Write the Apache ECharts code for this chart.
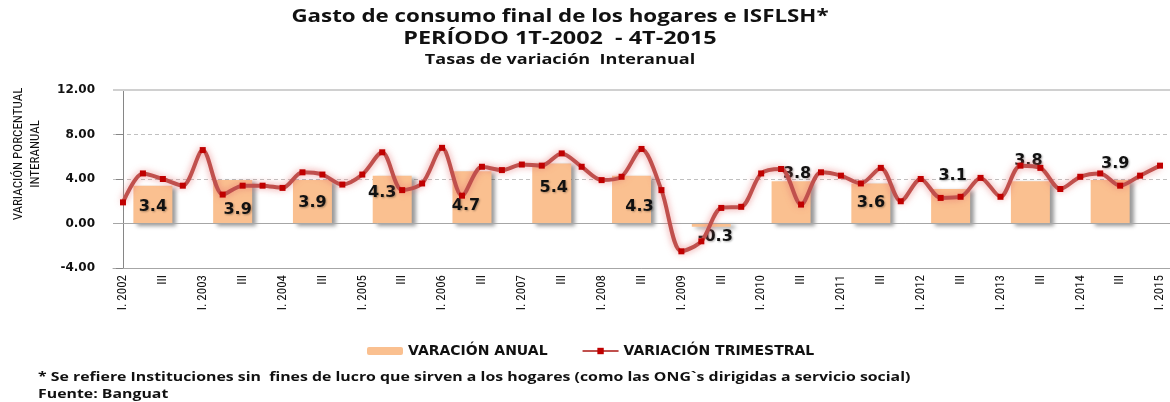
<!DOCTYPE html>
<html>
<head>
<meta charset="utf-8">
<script src="https://cdn.jsdelivr.net/npm/echarts@6/dist/echarts.min.js"></script>
<style>
html, body { margin: 0; padding: 0; background: #fff; }
#chart { width: 1170px; height: 402px; }
</style>
</head>
<body>
<div id="chart"></div>
<script>
// trimestres, de I.2002 a I.2015
const trimestres = [
    'I. 2002', 'II', 'III', 'IV', 'I. 2003', 'II', 'III', 'IV',
    'I. 2004', 'II', 'III', 'IV', 'I. 2005', 'II', 'III', 'IV',
    'I. 2006', 'II', 'III', 'IV', 'I. 2007', 'II', 'III', 'IV',
    'I. 2008', 'II', 'III', 'IV', 'I. 2009', 'II', 'III', 'IV',
    'I. 2010', 'II', 'III', 'IV', 'I. 2011', 'II', 'III', 'IV',
    'I. 2012', 'II', 'III', 'IV', 'I. 2013', 'II', 'III', 'IV',
    'I. 2014', 'II', 'III', 'IV', 'I. 2015'
];
const variacionTrimestral = [
    1.9, 4.5, 4.0, 3.4,  6.6, 2.6, 3.4, 3.4,
    3.2, 4.6, 4.4, 3.5,  4.4, 6.4, 3.0, 3.6,
    6.8, 2.5, 5.1, 4.8,  5.3, 5.2, 6.3, 5.1,
    3.9, 4.2, 6.7, 3.0, -2.5, -1.6, 1.4, 1.5,
    4.5, 4.9, 1.7, 4.6,  4.3, 3.6, 5.0, 2.0,
    4.0, 2.3, 2.4, 4.1,  2.4, 5.2, 5.0, 3.1,
    4.2, 4.5, 3.4, 4.3,  5.2
];
const anios = [2002, 2003, 2004, 2005, 2006, 2007, 2008, 2009, 2010, 2011, 2012, 2013, 2014];
const variacionAnual = [3.4, 3.9, 3.9, 4.3, 4.7, 5.4, 4.3, -0.3, 3.8, 3.6, 3.1, 3.8, 3.9];
const yMin = -4, yMax = 12, yStep = 4;

// donde cae cada etiqueta de la barra (como en el original)
const labelDy = [21, 30, 23, 17, 35, 24, 31, 13, -7, 19, -13, -20, -16];
const labelDx = [0, 5, 0, -10, -6, 2, 8, 4, 6, 0, 2, -2, 5];

const narrow = "'Liberation Sans Narrow', 'Roboto Condensed', Roboto, sans-serif";

// barra anual centrada entre el II y III trimestre de su año
const barData = anios.map(function (a, i) {
    return {
        value: [trimestres.indexOf('I. ' + a) + 1.5, variacionAnual[i]],
        label: {
            position: ['50%', labelDy[i]],
            offset: [labelDx[i], 0]
        }
    };
});

function texto(x, y, txt, size, sx, align) {
    return {
        type: 'text', x: x, y: y, scaleX: sx,
        style: {
            text: txt,
            align: align, verticalAlign: 'middle',
            fontFamily: 'Open Sans', fontWeight: 'bold', fontSize: size, fill: '#111'
        }
    };
}

let myChart = echarts.init(document.getElementById('chart'));
myChart.setOption({
    animation: false,
    grid: { left: 113, top: 90, right: 0, height: 178, containLabel: false, outerBoundsMode: 'none' },
    legend: {
        left: 362,
        top: 339,
        itemWidth: 36,
        itemHeight: 8,
        itemGap: 34,
        textStyle: { fontFamily: 'DejaVu Sans', fontWeight: 'bold', fontSize: 14, color: '#111' },
        data: ['VARACIÓN ANUAL', 'VARIACIÓN TRIMESTRAL']
    },
    xAxis: [
        {
            type: 'category',
            data: trimestres,
            boundaryGap: true,
            axisLine: { onZero: false, lineStyle: { color: '#A6A6A6' } },
            axisTick: { show: false },
            axisLabel: {
                interval: 1,
                rotate: 90,
                margin: 7,
                fontFamily: narrow,
                fontSize: 13,
                color: '#111'
            }
        },
        {
            type: 'value',
            show: false,
            min: -0.5,
            max: trimestres.length - 0.5
        }
    ],
    yAxis: {
        type: 'value',
        min: yMin,
        max: yMax,
        interval: yStep,
        axisLine: { show: true, lineStyle: { color: '#868686' } },
        axisTick: { show: true, length: 7, lineStyle: { color: '#868686' } },
        axisLabel: {
            margin: 18,
            formatter: function (v) { return v.toFixed(2); },
            fontFamily: 'DejaVu Sans',
            fontWeight: 'bold',
            fontSize: 12,
            color: '#111'
        },
        splitLine: { lineStyle: { color: '#C0C0C0', type: [4, 3] } }
    },
    series: [
        {
            name: 'VARACIÓN ANUAL',
            type: 'bar',
            xAxisIndex: 1,
            barWidth: 39,
            itemStyle: {
                color: '#FAC090',
                shadowColor: 'rgba(0,0,0,0.4)',
                shadowBlur: 4,
                shadowOffsetX: 4,
                shadowOffsetY: 2
            },
            label: {
                show: true,
                align: 'center',
                verticalAlign: 'middle',
                formatter: function (p) { return p.value[1].toFixed(1); },
                fontFamily: 'DejaVu Sans',
                fontWeight: 'bold',
                fontSize: 16,
                color: '#111',
                textShadowColor: 'rgba(0,0,0,0.3)',
                textShadowBlur: 2,
                textShadowOffsetX: 1,
                textShadowOffsetY: 1
            },
            markLine: {
                silent: true,
                symbol: 'none',
                label: { show: false },
                data: [
                    { yAxis: 0, lineStyle: { color: '#A6A6A6', type: 'solid', width: 1 } },
                    { yAxis: yMax, lineStyle: { color: '#D0D0D0', type: 'solid', width: 2 } }
                ]
            },
            data: barData
        },
        {
            name: 'VARIACIÓN TRIMESTRAL',
            type: 'line',
            xAxisIndex: 0,
            smooth: 0.3,
            symbol: 'rect',
            symbolSize: 6,
            z: 5,
            lineStyle: {
                color: '#C0504D',
                width: 4,
                shadowColor: 'rgba(230,110,110,0.75)',
                shadowBlur: 7
            },
            itemStyle: { color: '#C00000' },
            data: variacionTrimestral
        }
    ],
    graphic: [
        texto(560, 17, 'Gasto de consumo final de los hogares e ISFLSH*', 18, 1.24, 'center'),
        texto(560, 39, 'PERÍODO 1T-2002  - 4T-2015', 18, 1.3, 'center'),
        texto(560, 60, 'Tasas de variación  Interanual', 14, 1.29, 'center'),
        {
            type: 'text', x: 27, y: 154, rotation: Math.PI / 2,
            style: {
                text: 'VARIACIÓN PORCENTUAL\nINTERANUAL',
                align: 'center', verticalAlign: 'middle', lineHeight: 17,
                fontFamily: narrow, fontSize: 13, fill: '#111'
            }
        },
        texto(38, 377, '* Se refiere Instituciones sin  fines de lucro que sirven a los hogares (como las ONG`s dirigidas a servicio social)', 13, 1.22, 'left'),
        texto(38, 394, 'Fuente: Banguat', 13, 1.22, 'left')
    ]
});
//adaptar al tamaño
window.addEventListener('resize', function () {
    myChart.resize();
});
</script>
</body>
</html>
